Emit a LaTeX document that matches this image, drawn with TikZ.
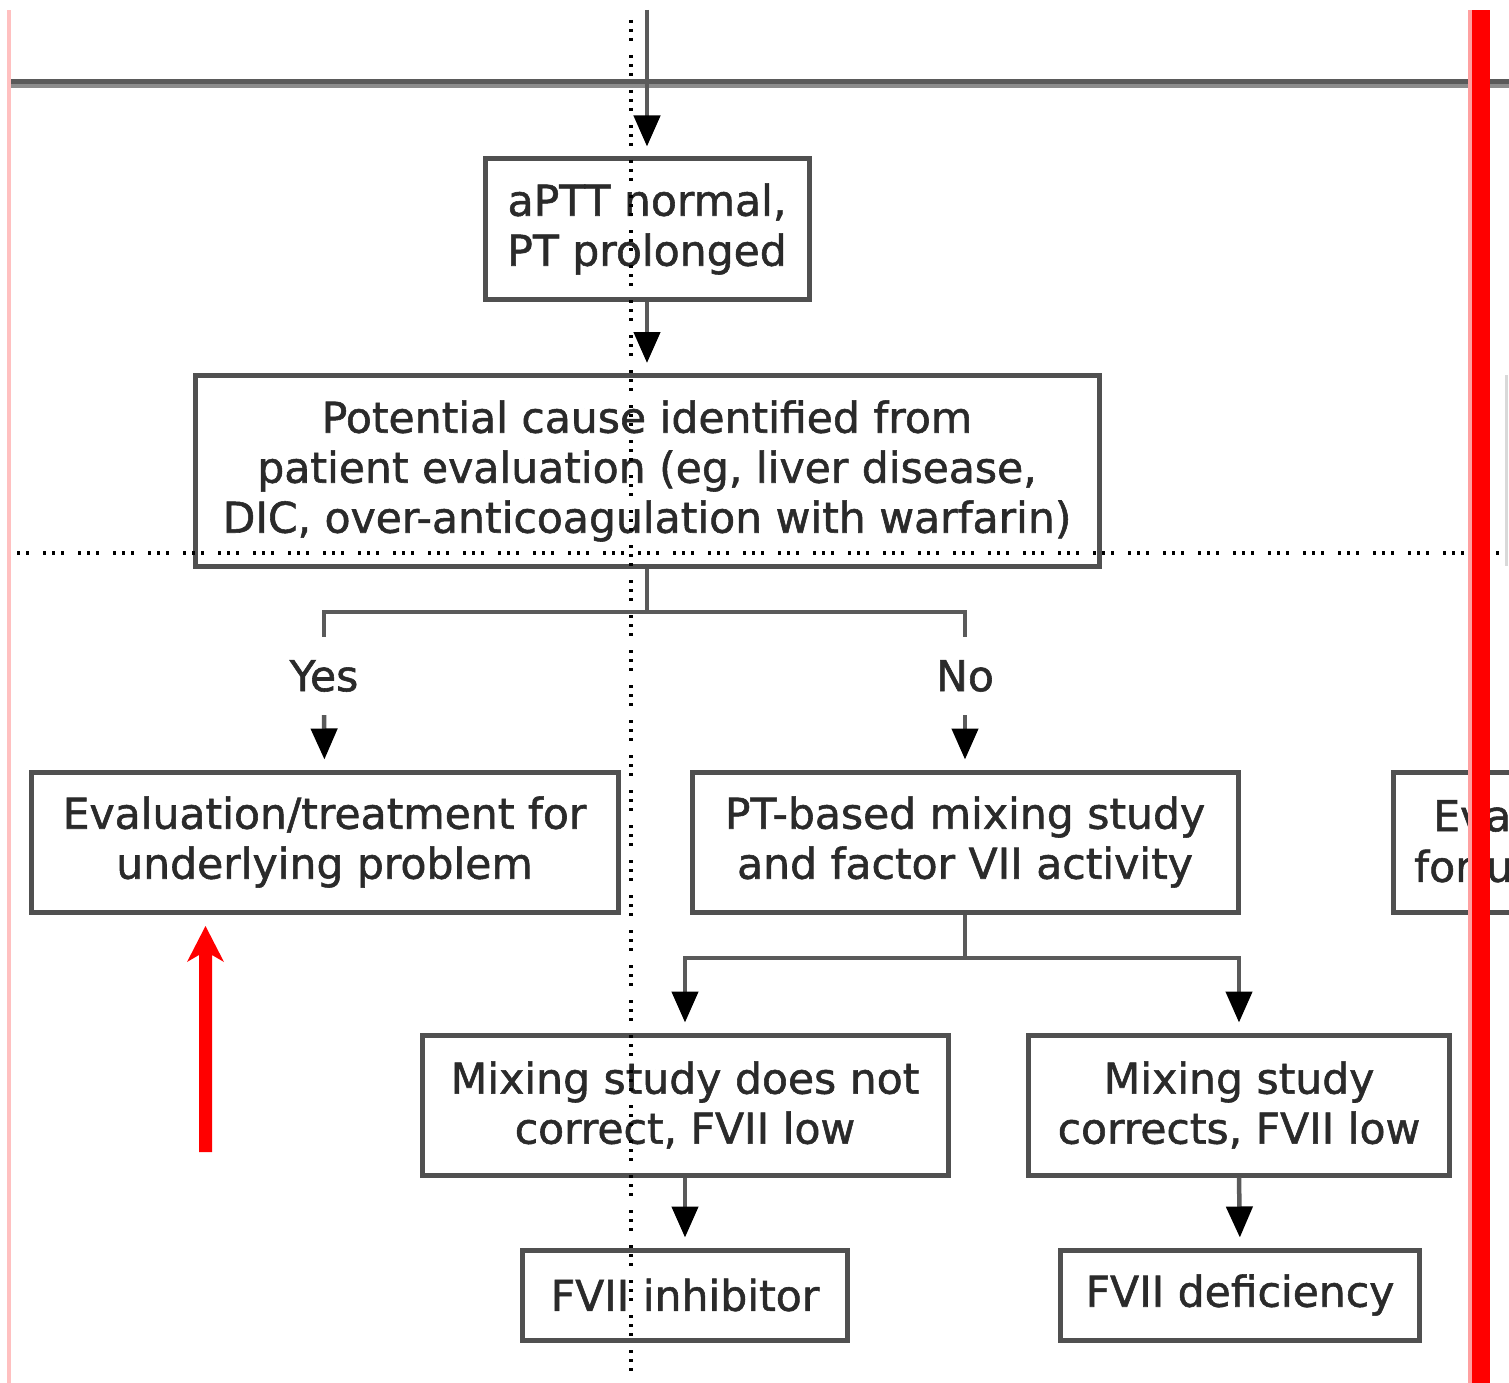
\documentclass[tikz,border=0pt]{standalone}
\usepackage{fontspec}
\setmainfont{DejaVu Sans}[FakeBold=1.3]
\usetikzlibrary{arrows.meta}
\definecolor{boxgray}{HTML}{505050}
\definecolor{linegray}{HTML}{5A5A5A}
\definecolor{textc}{HTML}{2A2A2A}
\definecolor{pinkl}{HTML}{FFC0C0}
\definecolor{pinkr}{HTML}{FFA0A0}
\definecolor{redbar}{HTML}{FF0000}
\begin{document}
\begin{tikzpicture}[x=1pt,y=-1pt,
  box/.style={draw=boxgray, line width=5pt, fill=white, align=center, text=textc,
    font=\fontsize{42.5}{50}\selectfont, inner sep=0pt},
  lbl/.style={text=textc, font=\fontsize{42.5}{50}\selectfont, inner sep=0pt},
  conn/.style={draw=linegray, line width=4.5pt},
  arr/.style={conn, -{Triangle[length=31pt,width=26pt,color=black,fill=black]}, shorten >=10pt},
  dotline/.style={draw=black, line width=3.2pt,
    dash pattern=on 3.2pt off 5.8pt on 3.2pt off 5.8pt on 3.2pt off 13.8pt}]
\useasboundingbox (0,0) rectangle (1509,1383);
\fill[white] (0,0) rectangle (1509,1383);

% top rule
\draw[line width=5pt, draw=linegray] (8,81.5) -- (1509,81.5);
\draw[line width=4pt, draw=gray!90] (8,86) -- (1509,86);

% boxes
\node[box, minimum width=324, minimum height=140] (b1) at (647,229) {aPTT normal,\\PT prolonged};
\node[box, minimum width=904, minimum height=191] (b2) at (647,471) {Potential cause identified from\\patient evaluation (eg, liver disease,\\DIC, over-anticoagulation with warfarin)};
\node[lbl, minimum height=78] (yes) at (324,676) {Yes};
\node[lbl, minimum height=78] (no) at (965,676) {No};
\node[box, minimum width=587, minimum height=140] (b3) at (324.5,842) {Evaluation/treatment for\\underlying problem};
\node[box, minimum width=546, minimum height=140] (b4) at (965,842) {PT-based mixing study\\and factor VII activity};
\node[box, minimum width=526, minimum height=140] (b6) at (685,1105) {Mixing study does not\\correct, FVII low};
\node[box, minimum width=421, minimum height=140] (b7) at (1239,1105) {Mixing study\\corrects, FVII low};
\node[box, minimum width=325, minimum height=90] (b8) at (685,1295) {FVII inhibitor};
\node[box, minimum width=359, minimum height=90] (b9) at (1240,1295) {FVII deficiency};

% partial box on the right edge
\draw[draw=boxgray, line width=5pt] (1512,772) -| (1393,912) -- (1512,912);
\node[lbl, anchor=west] (e1) at (1433,816) {Eva};
\node[lbl, anchor=west] (e2) at (1414,866) {for u};
\draw[draw=gray!30, line width=3pt] (1506,375) -- (1506,566);

% connectors
\coordinate (top) at (647,10);
\coordinate (j1) at (647,612);
\coordinate (j2) at (965,958);
\draw[arr] (top) -- (b1.north);
\draw[arr] (b1.south) -- (b2.north);
\draw[conn] (b2.south) -- (j1);
\draw[conn] (yes.north) |- (j1) -| (no.north);
\draw[arr] (yes.south) -- (b3.north);
\draw[arr] (no.south) -- (b4.north);
\draw[conn] (b4.south) -- (j2);
\draw[arr] (j2) -| (b6.north);
\draw[arr] (j2) -| (b7.north);
\draw[arr] (b6.south) -- (b8.north);
\draw[arr] (b7.south) -- (b9.north);

% guide lines
\draw[dotline] (631,20) -- (631,1383);
\draw[dotline] (8,553) -- (1509,553);

% annotations
\fill[pinkl] (7,10) rectangle (11,1383);
\fill[pinkr] (1468,10) rectangle (1472,1383);
\fill[redbar] (1472,10) rectangle (1490,1383);
\fill[redbar] (199,1152) -- (199,955) -- (187,962) -- (205.5,926) -- (224,962) -- (212,955) -- (212,1152) -- cycle;
\end{tikzpicture}
\end{document}
